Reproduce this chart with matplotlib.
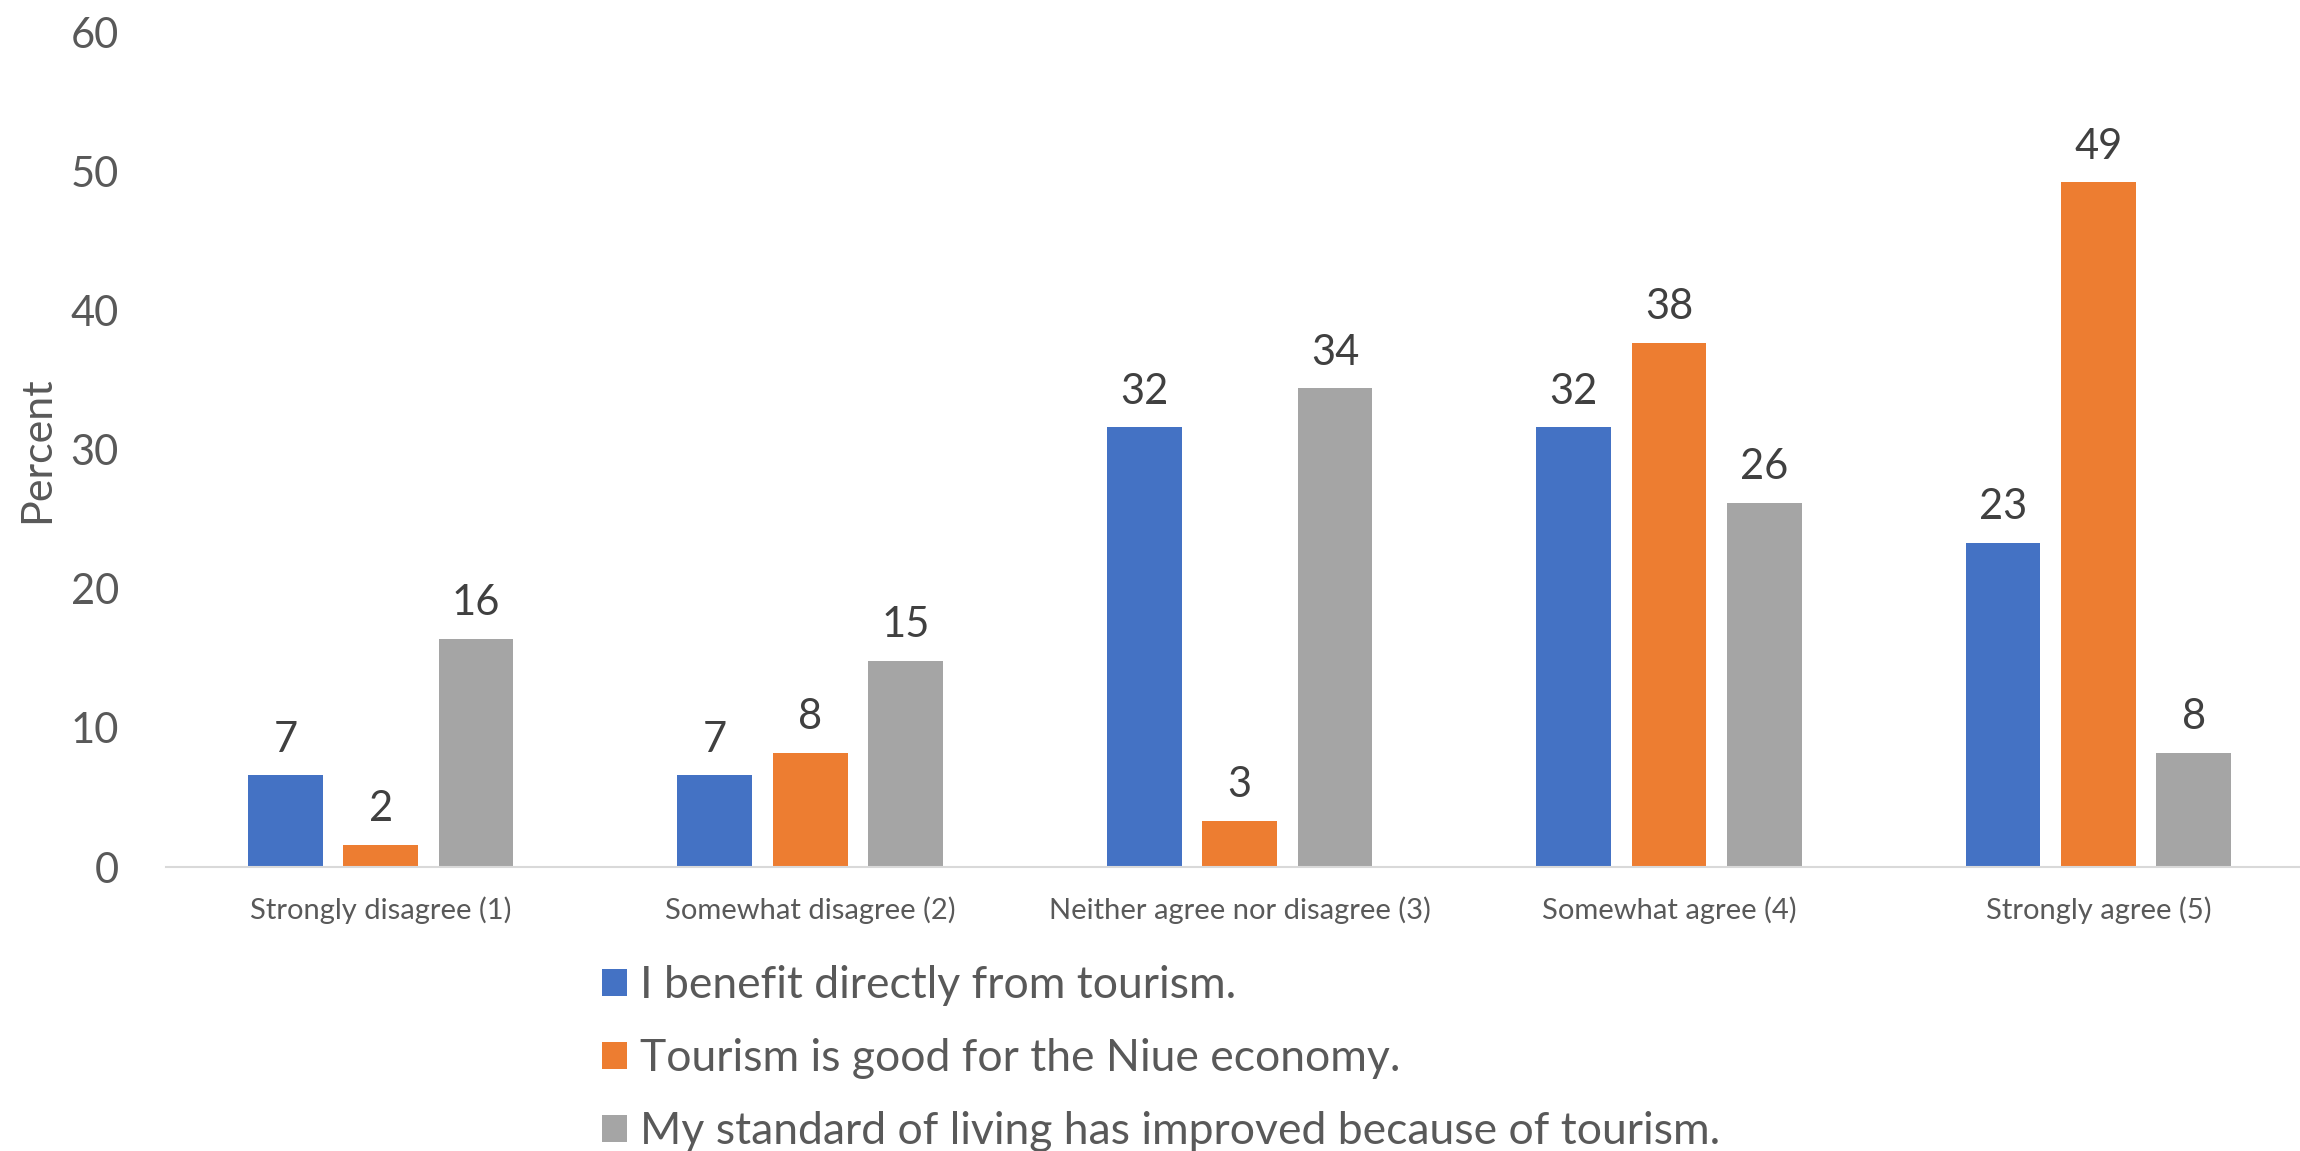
import numpy as np
import matplotlib.pyplot as plt

plt.rcParams['font.family'] = ['Lato', 'DejaVu Sans']

categories = ['Strongly disagree (1)', 'Somewhat disagree (2)', 'Neither agree nor disagree (3)',
              'Somewhat agree (4)', 'Strongly agree (5)']
series_names = ['I benefit directly from tourism.',
                'Tourism is good for the Niue economy.',
                'My standard of living has improved because of tourism.']
benefit = [6.6, 6.6, 31.6, 31.6, 23.3]
economy = [1.6, 8.2, 3.3, 37.7, 49.2]
living = [16.4, 14.8, 34.4, 26.2, 8.2]
colors = ['#4472C4', '#ED7D31', '#A5A5A5']

fig = plt.figure(figsize=(23, 11.51), dpi=100)
ax = fig.add_axes([0.0722, 0.2467, 0.9335, 0.7253])

x = np.arange(len(categories))
width = 0.174
step = 0.222
for i, (vals, name) in enumerate(zip([benefit, economy, living], series_names)):
    b = ax.bar(x + (i - 1) * step, vals, width, color=colors[i], label=name, zorder=2)
    ax.bar_label(b, labels=['%.0f' % v for v in vals], padding=12, fontsize=30, color='#404040')

ax.set_xlim(-0.5, 4.5)
ax.set_ylim(0, 60)
ax.set_yticks(range(0, 61, 10))
ax.set_xticks(x)
ax.set_xticklabels(categories, fontsize=21, color='#595959')
ax.tick_params(axis='y', labelsize=30, labelcolor='#595959', length=0, pad=34)
ax.tick_params(axis='x', length=0, pad=21)
for s in ['top', 'right', 'left']:
    ax.spines[s].set_visible(False)
ax.spines['bottom'].set_color('#D9D9D9')
ax.spines['bottom'].set_linewidth(1.5)

fig.text(37 / 2300, 1 - 450 / 1151, 'Percent', rotation=90, fontsize=31, color='#595959',
         ha='center', va='center')

ax.legend(loc='upper left', bbox_to_anchor=(580 / 2300, 1 - 943 / 1151), bbox_transform=fig.transFigure,
          frameon=False, fontsize=32, labelcolor='#595959', handlelength=0.56, handleheight=0.56,
          handletextpad=0.3, labelspacing=0.72, borderpad=0)

fig.savefig('out.png', dpi=100)
